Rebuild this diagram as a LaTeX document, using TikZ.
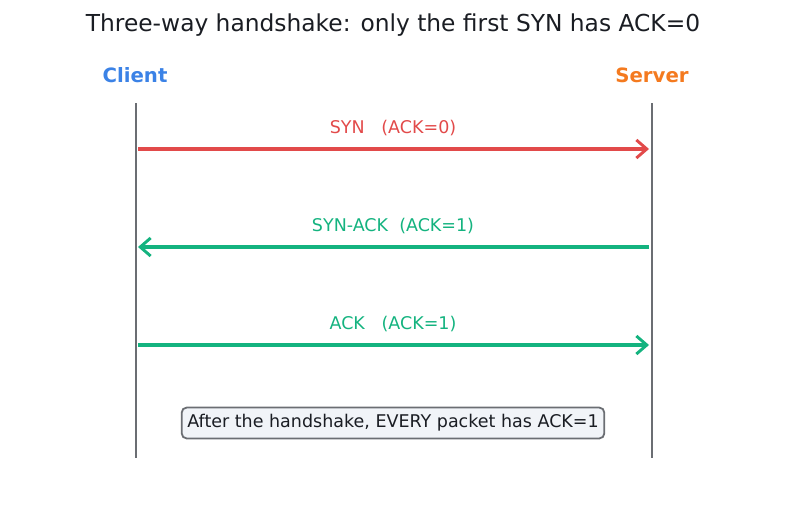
\documentclass[tikz,border=0pt]{standalone}
\usepackage{fontspec}
\setmainfont{DejaVu Sans}
\usetikzlibrary{arrows.meta, positioning}

\definecolor{synred}{HTML}{E24A4A}
\definecolor{ackgreen}{HTML}{14B37F}
\definecolor{cliblue}{HTML}{3B82E6}
\definecolor{srvorange}{HTML}{F47A1F}
\definecolor{lifegray}{HTML}{6B6E73}
\definecolor{titleink}{HTML}{1A1D23}
\definecolor{notefill}{HTML}{F1F4F8}

\begin{document}
\begin{tikzpicture}[
    x=0.72pt, y=-0.72pt,
    >={Straight Barb[length=7.5pt, width=13pt, line width=2.1pt]},
    lifeline/.style={draw=lifegray, line width=1.7pt},
    msg/.style={->, line width=2.5pt},
    msglbl/.style={font=\fontsize{12.6}{15}\selectfont},
    party/.style={font=\fontsize{14.2}{17}\selectfont\bfseries}
  ]
  \useasboundingbox (0,0) rectangle (787,510);

  % Title
  \node[font=\fontsize{16.8}{20}\selectfont, text=titleink] (title) at (393, 25)
    {Three-way handshake: only the first SYN has ACK=0};

  % Parties and lifelines
  \node[party, text=cliblue] (client) at (135, 75) {Client};
  \node[party, text=srvorange] (server) at (652, 75) {Server};
  \coordinate (ctop) at (136, 103);
  \coordinate (cbot) at (136, 458);
  \coordinate (stop) at (652, 103);
  \coordinate (sbot) at (652, 458);
  \draw[lifeline] (ctop) -- (cbot);
  \draw[lifeline] (stop) -- (sbot);

  % Messages
  \foreach \y [count=\i] in {149, 247, 345} {
    \coordinate (c\i) at (138, \y);
    \coordinate (s\i) at (649, \y);
  }
  \draw[msg, synred] (c1) -- (s1);
  \draw[msg, ackgreen] (s2) -- (c2);
  \draw[msg, ackgreen] (c3) -- (s3);

  \node[msglbl, text=synred] (syn) at (393, 128) {SYN\ \ \ (ACK=0)};
  \node[msglbl, text=ackgreen] (synack) at (393, 226) {SYN-ACK\ \ (ACK=1)};
  \node[msglbl, text=ackgreen] (ack) at (393, 324) {ACK\ \ \ (ACK=1)};

  % Note
  \node[draw=lifegray, fill=notefill, rounded corners=3.5pt, line width=1.3pt,
        inner xsep=4pt, inner ysep=5pt, text=titleink,
        font=\fontsize{12.6}{15}\selectfont] (note) at (393, 423)
    {After the handshake, EVERY packet has ACK=1};
\end{tikzpicture}
\end{document}
